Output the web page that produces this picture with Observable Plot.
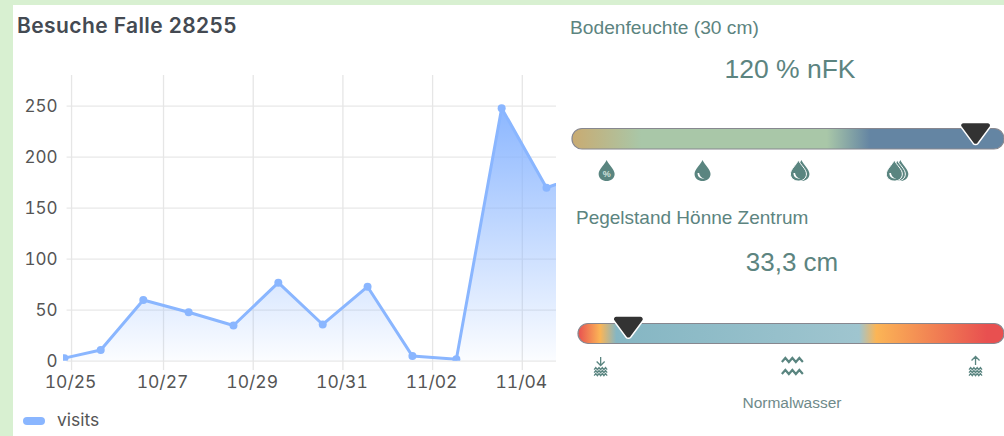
<!DOCTYPE html>
<html><head><meta charset="utf-8">
<script src="https://cdn.jsdelivr.net/npm/d3@7"></script>
<script src="https://cdn.jsdelivr.net/npm/@observablehq/plot@0.6"></script>
<style>
html,body{margin:0;padding:0;width:1004px;height:436px;overflow:hidden;background:#d8f0d1}
#panel{position:absolute;left:13px;top:5px;width:991px;height:431px;background:#fff}
.t{position:absolute;white-space:nowrap;font-family:"Liberation Sans",Arial,sans-serif;color:#5c8480;line-height:1}
.p{position:absolute}
.p svg{display:block;max-width:none}
</style></head><body>
<div id="panel"></div>
<div class="t" style="left:17px;top:15px;font:600 21px/1 Inter;color:#444a52;letter-spacing:.4px">Besuche Falle 28255</div>
<div class="t" style="left:23px;top:417px;width:22px;height:8px;border-radius:4px;background:#8ab6ff"></div>
<div class="t" style="left:57px;top:411px;font:17.5px/1 Inter;color:#555">visits</div>
<div class="t" style="left:570px;top:18px;font-size:19.2px">Bodenfeuchte (30 cm)</div>
<div class="t" style="left:690px;width:200px;text-align:center;top:56px;font-size:26.5px">120 % nFK</div>
<div class="t" style="left:576px;top:208px;font-size:19px">Pegelstand Hönne Zentrum</div>
<div class="t" style="left:692px;width:200px;text-align:center;top:249px;font-size:26px">33,3 cm</div>
<div class="t" style="left:692px;width:200px;text-align:center;top:395px;font-size:15.5px;color:#6f8a8a">Normalwasser</div>
<div class="p" id="chart" style="left:13px;top:60px"></div>
<div class="p" id="g1" style="left:560px;top:115px"></div>
<div class="p" id="g2" style="left:560px;top:305px"></div>
<script>
// Line chart: days after 10/25 and visits
const days = [-0.21, 0.6, 1.55, 2.56, 3.56, 4.56, 5.55, 6.55, 7.55, 8.53, 9.54, 10.54, 11.52];
const visits = [3, 11, 60, 48, 35, 77, 36, 73, 5, 2, 248, 170, 185];
const tickDays = [-0.05, 2, 4, 6, 8, 10];
const tickLabels = ["10/25", "10/27", "10/29", "10/31", "11/02", "11/04"];
const yTicks = [0, 50, 100, 150, 200, 250];

// Gauges
const moistureStops = [[0, "#c9ab72"], [16, "#a9c7a8"], [59, "#a9c7a8"], [69, "#6485a3"], [100, "#6485a3"]];
const moistureMarker = 93.3;
const moistureIcons = [7.9, 30.1, 52.3, 74.5];
const levelStops = [[0, "#e85050"], [5.2, "#fbb556"], [9, "#85b6c3"], [66, "#9fc5cf"], [70, "#fbb556"], [96, "#e85050"], [100, "#e85050"]];
const levelMarker = 11.7;
const levelIcons = [5.2, 50.2, 93.2];

const teal = "#5a8580";
const defsMark = (id, stops, x1, y1, x2, y2) => () => {
  const g = d3.create("svg:g");
  const lg = g.append("defs").append("linearGradient").attr("id", id)
    .attr("x1", x1).attr("y1", y1).attr("x2", x2).attr("y2", y2);
  stops.forEach(s => lg.append("stop").attr("offset", s[0] + "%").attr("stop-color", s[1]).attr("stop-opacity", s[2] ?? 1));
  return g.node();
};

const rows = days.map((d, i) => ({d, v: visits[i]}));
document.getElementById("chart").append(Plot.plot({
  width: 543, height: 340, marginLeft: 50, marginRight: 0, marginTop: 15, marginBottom: 39.3,
  style: {fontFamily: "Inter", background: "transparent", overflow: "hidden"},
  x: {domain: [-0.23, 10.763]},
  y: {domain: [0, 280]},
  marks: [
    defsMark("visitsFill", [[0, "#86b3ff", 0.95], [100, "#86b3ff", 0.03]], 0, 0, 0, 1),
    Plot.ruleY(yTicks, {x1: -0.15, x2: 10.763, stroke: "#e8e8e8", strokeWidth: 1.3}),
    Plot.ruleX(tickDays, {y1: -9, y2: 280, stroke: "#e6e6e6", strokeWidth: 1.3}),
    Plot.areaY(rows, {x: "d", y: "v", fill: "url(#visitsFill)", clip: true}),
    Plot.line(rows, {x: "d", y: "v", stroke: "#8ab6ff", strokeWidth: 3, clip: true}),
    Plot.dot(rows, {x: "d", y: "v", r: 4, fill: "#8ab6ff", clip: true}),
    Plot.axisY({ticks: yTicks, tickSize: 0, tickPadding: 6, fontSize: 17, color: "#555", label: null}),
    Plot.axisX({ticks: tickDays, tickFormat: d => tickLabels[tickDays.indexOf(d)], tickSize: 0, tickPadding: 14, fontSize: 17.5, color: "#555", label: null, textAnchor: "middle", dx: -1})
  ]
}));

const sym = f => ({draw(c, size) { f(c, Math.sqrt(size / Math.PI) / 10); }});
const marker = sym((c, k) => {
  c.moveTo(-12*k, -11.5*k);
  c.arcTo(-16*k, -11.5*k, -15*k, -7.5*k, 3*k);
  c.lineTo(-2*k, 10*k);
  c.arcTo(0, 12.5*k, 2*k, 10*k, 3*k);
  c.lineTo(15*k, -7.5*k);
  c.arcTo(16*k, -11.5*k, 12*k, -11.5*k, 3*k);
  c.closePath();
});
const drop = sym((c, k) => {
  c.moveTo(0, -11*k);
  c.bezierCurveTo(2*k, -6*k, 8*k, -2*k, 8*k, 3*k);
  c.bezierCurveTo(8*k, 7.5*k, 4*k, 10*k, 0, 10*k);
  c.bezierCurveTo(-4*k, 10*k, -8*k, 7.5*k, -8*k, 3*k);
  c.bezierCurveTo(-8*k, -2*k, -2*k, -6*k, 0, -11*k);
  c.closePath();
});
const crescent = sym((c, k) => {
  c.moveTo(-5*k, 2*k);
  c.bezierCurveTo(-5*k, 6*k, -2*k, 8*k, 2*k, 7.6*k);
  c.bezierCurveTo(-1*k, 7*k, -3*k, 5*k, -3.4*k, 2*k);
  c.closePath();
});
const zig = (c, k, y, w, h, n) => {
  const s = 2 * w / n;
  c.moveTo(-w*k, y*k);
  for (let i = 1; i <= n; i++) c.lineTo((-w + i*s)*k, (y + (i % 2 ? -h : 0))*k);
};
const waves2 = sym((c, k) => { zig(c, k, -4, 10.5, 4, 6); zig(c, k, 8, 10.5, 4, 6); });
const waterDown = sym((c, k) => {
  c.moveTo(0, -9*k); c.lineTo(0, -1*k);
  c.moveTo(-4*k, -4.5*k); c.lineTo(0, -0.5*k); c.lineTo(4*k, -4.5*k);
  zig(c, k, 3.6, 6.5, 2, 8); zig(c, k, 6.6, 6.5, 2, 8); zig(c, k, 9.6, 6.5, 2, 8);
});
const waterUp = sym((c, k) => {
  c.moveTo(0, -1*k); c.lineTo(0, -9.5*k);
  c.moveTo(-4*k, -5.5*k); c.lineTo(0, -9.5*k); c.lineTo(4*k, -5.5*k);
  zig(c, k, 3.6, 6.5, 2, 8); zig(c, k, 6.6, 6.5, 2, 8); zig(c, k, 9.6, 6.5, 2, 8);
});

const iconY = -1.05;
const gauge = (el, id, stops, pos, rowMarks, left, top, bottom, markerY) => {
  const h = bottom + 46;
  document.getElementById(el).append(Plot.plot({
    width: 444, height: h, marginLeft: left, marginRight: 0, marginTop: top, marginBottom: h - bottom,
    style: {background: "transparent", fontFamily: "Liberation Sans", overflow: "visible"},
    x: {domain: [0, 100], axis: null},
    y: {domain: [0, 1], axis: null},
    marks: [
      defsMark(id, stops.map(s => [s[0], s[1]]), 0, 0, 1, 0),
      Plot.rect([0], {x1: () => 0, x2: () => 100, y1: () => 0, y2: () => 1, fill: `url(#${id})`, stroke: "#87878f", strokeWidth: 1.2, rx: 10}),
      Plot.dot([pos], {x: d => d, y: () => markerY, r: 10, symbol: marker, fill: "#333", stroke: "#fff", strokeWidth: 1.5}),
      ...rowMarks
    ]
  }));
};

const dropDot = (x, dx, stroke) => Plot.dot([x], {x: d => d, y: () => iconY, dx, r: 10, symbol: drop, fill: teal, stroke: stroke ? "#fff" : "none", strokeWidth: 1});
const cres = x => Plot.dot([x], {x: d => d, y: () => iconY, r: 10, symbol: crescent, fill: "#fff"});
gauge("g1", "moistureGrad", moistureStops, moistureMarker, [
  dropDot(moistureIcons[0], 0),
  Plot.text(["%"], {x: () => moistureIcons[0], y: () => iconY, dy: 3, text: d => d, fill: "#cfe0dc", fontSize: 9, fontWeight: "bold"}),
  dropDot(moistureIcons[1], 0), cres(moistureIcons[1]),
  dropDot(moistureIcons[2], 3), dropDot(moistureIcons[2], 0, true), cres(moistureIcons[2]),
  dropDot(moistureIcons[3], 6), dropDot(moistureIcons[3], 3, true), dropDot(moistureIcons[3], 0, true), cres(moistureIcons[3])
], 12, 13.5, 34, 0.76);

const waterDot = (x, s, r, w) => Plot.dot([x], {x: d => d, y: () => -1.1, r, symbol: s, fill: "none", stroke: teal, strokeWidth: w});
gauge("g2", "levelGrad", levelStops, levelMarker, [
  waterDot(levelIcons[0], waterDown, 10, 1.3),
  waterDot(levelIcons[1], waves2, 10, 2.2),
  waterDot(levelIcons[2], waterUp, 10, 1.3)
], 18, 18.5, 38.5, 0.82);
</script>
</body></html>
